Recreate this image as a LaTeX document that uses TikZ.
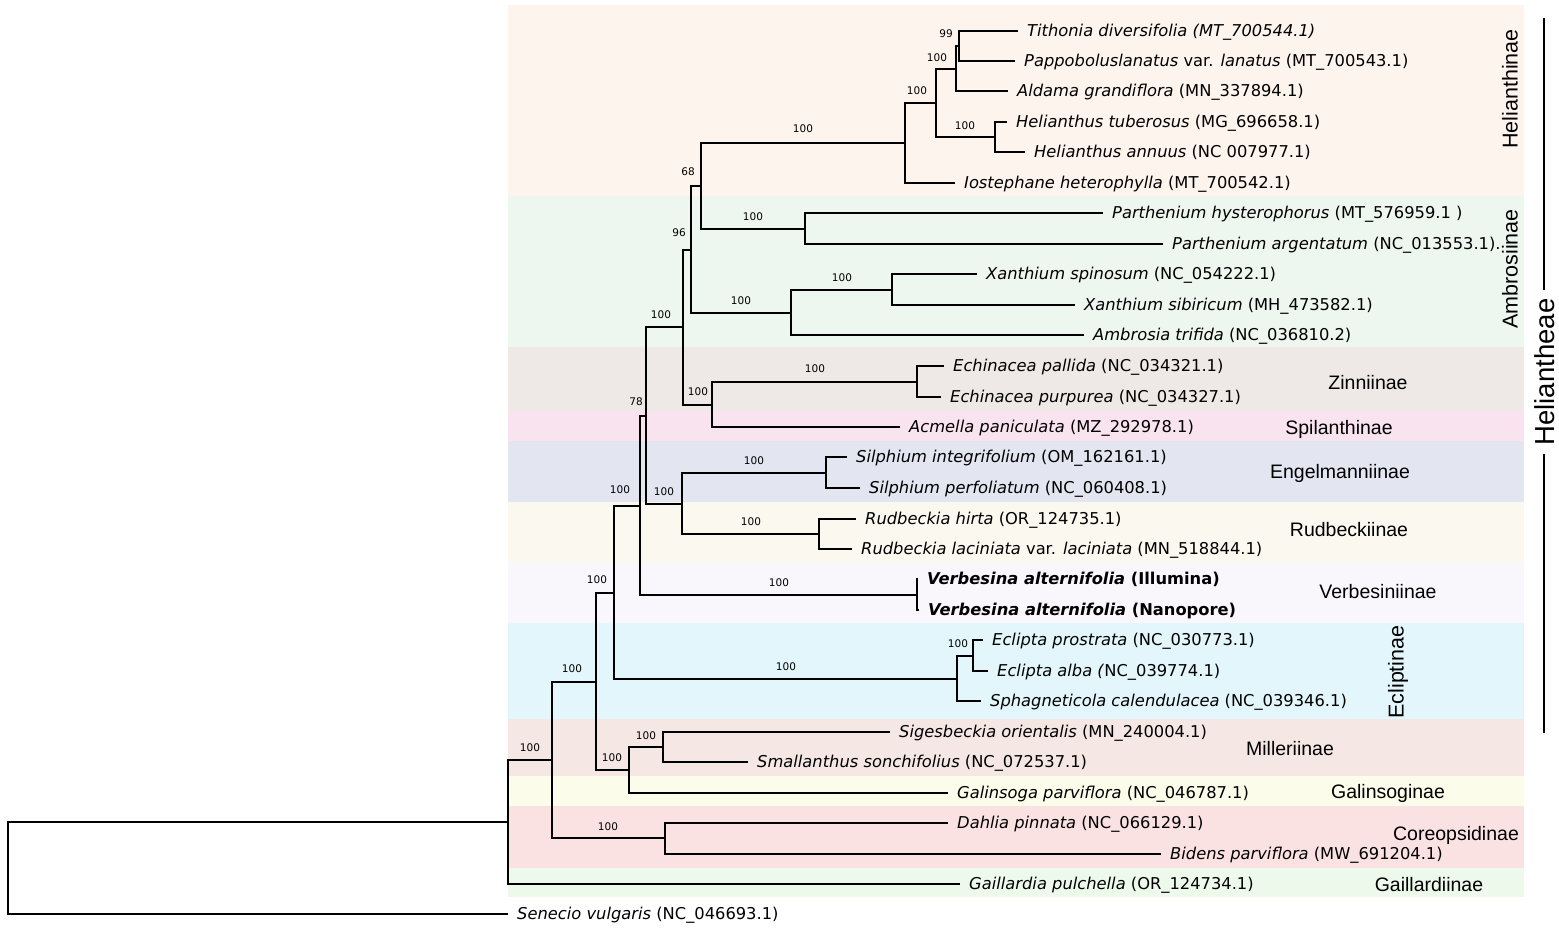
\documentclass[tikz,border=0pt]{standalone}
\usepackage{fontspec}
\setmainfont{DejaVu Sans}
\newfontfamily\cladefont{Liberation Sans}
\definecolor{cHeli}{HTML}{FDF4EE}
\definecolor{cAmbr}{HTML}{EEF6F0}
\definecolor{cZinn}{HTML}{EEE9E6}
\definecolor{cSpil}{HTML}{F9E3EF}
\definecolor{cEnge}{HTML}{E3E5F1}
\definecolor{cRudb}{HTML}{FBF8F0}
\definecolor{cVerb}{HTML}{F9F7FB}
\definecolor{cEcli}{HTML}{E2F6FB}
\definecolor{cMill}{HTML}{F5E7E3}
\definecolor{cGali}{HTML}{FCFCEB}
\definecolor{cCore}{HTML}{FBE2E2}
\definecolor{cGail}{HTML}{EDFAEB}
\tikzset{
    leaf/.style={anchor=west, inner xsep=9pt, inner ysep=0pt, text height=11.9pt, text depth=0pt,
        font=\fontsize{16.3}{18}\selectfont},
    boot/.style={inner sep=0pt, text height=7.7pt, text depth=0pt, font=\fontsize{10.5}{12}\selectfont},
    clade/.style={inner sep=0pt, text height=14pt, text depth=0pt, font=\cladefont\fontsize{19.5}{22}\selectfont},
    cladev/.style={inner sep=0pt, rotate=90, text height=15.4pt, text depth=0pt, font=\cladefont\fontsize{21.5}{24}\selectfont},
    tribe/.style={inner xsep=8pt, inner ysep=0pt, rotate=90, text height=20pt, text depth=0pt, font=\cladefont\fontsize{27.5}{30}\selectfont},
    edgeline/.style={line width=1.8pt},
}

\begin{document}
\begin{tikzpicture}[x=1pt,y=-1pt]
    \useasboundingbox (0,0) rectangle (1559,928);
    % subtribe bands
    \foreach \ya/\yb/\col in {5/196/cHeli,196/347/cAmbr,347/411/cZinn,411/441/cSpil,
        441/502/cEnge,502/563/cRudb,563/623/cVerb,623/719/cEcli,719/776/cMill,
        776/806/cGali,806/868/cCore,868/897/cGail}
        \fill[\col] (508,\ya) rectangle (1524,\yb);

    % tips
    \node[leaf] (t1) at (1018,31) {\textit{Tithonia diversifolia (MT\_700544.1)}};
    \node[leaf] (t2) at (1015,61) {\textit{Pappoboluslanatus} var. \textit{lanatus} (MT\_700543.1)};
    \node[leaf] (t3) at (1008,91) {\textit{Aldama grandiflora} (MN\_337894.1)};
    \node[leaf] (t4) at (1007,122) {\textit{Helianthus tuberosus} (MG\_696658.1)};
    \node[leaf] (t5) at (1025,152) {\textit{Helianthus annuus} (NC 007977.1)};
    \node[leaf] (t6) at (955,183) {\textit{Iostephane heterophylla} (MT\_700542.1)};
    \node[leaf] (t7) at (1103,213) {\textit{Parthenium hysterophorus} (MT\_576959.1 )};
    \node[leaf] (t8) at (1163,244) {\textit{Parthenium argentatum} (NC\_013553.1).};
    \node[leaf] (t9) at (977,274) {\textit{Xanthium spinosum} (NC\_054222.1)};
    \node[leaf] (t10) at (1075,305) {\textit{Xanthium sibiricum} (MH\_473582.1)};
    \node[leaf] (t11) at (1084,335) {\textit{Ambrosia trifida} (NC\_036810.2)};
    \node[leaf] (t12) at (944,366) {\textit{Echinacea pallida} (NC\_034321.1)};
    \node[leaf] (t13) at (941,397) {\textit{Echinacea purpurea} (NC\_034327.1)};
    \node[leaf] (t14) at (900,427) {\textit{Acmella paniculata} (MZ\_292978.1)};
    \node[leaf] (t15) at (847,457) {\textit{Silphium integrifolium} (OM\_162161.1)};
    \node[leaf] (t16) at (860,488) {\textit{Silphium perfoliatum} (NC\_060408.1)};
    \node[leaf] (t17) at (856,519) {\textit{Rudbeckia hirta} (OR\_124735.1)};
    \node[leaf] (t18) at (852,549) {\textit{Rudbeckia laciniata} var. \textit{laciniata} (MN\_518844.1)};
    \node[leaf] (t19) at (918,579) {\textbf{\textit{Verbesina alternifolia} (Illumina)}};
    \node[leaf] (t20) at (919,610) {\textbf{\textit{Verbesina alternifolia} (Nanopore)}};
    \node[leaf] (t21) at (983,640) {\textit{Eclipta prostrata} (NC\_030773.1)};
    \node[leaf] (t22) at (988,671) {\textit{Eclipta alba (}NC\_039774.1)};
    \node[leaf] (t23) at (981,701) {\textit{Sphagneticola calendulacea} (NC\_039346.1)};
    \node[leaf] (t24) at (890,732) {\textit{Sigesbeckia orientalis} (MN\_240004.1)};
    \node[leaf] (t25) at (748,762) {\textit{Smallanthus sonchifolius} (NC\_072537.1)};
    \node[leaf] (t26) at (948,793) {\textit{Galinsoga parviflora} (NC\_046787.1)};
    \node[leaf] (t27) at (948,823) {\textit{Dahlia pinnata} (NC\_066129.1)};
    \node[leaf] (t28) at (1161,854) {\textit{Bidens parviflora} (MW\_691204.1)};
    \node[leaf] (t29) at (960,884) {\textit{Gaillardia pulchella} (OR\_124734.1)};
    \node[leaf] (t30) at (508,914) {\textit{Senecio vulgaris} (NC\_046693.1)};

    % inner nodes
    \coordinate (nA) at (959,46);   \coordinate (nB) at (956,69);
    \coordinate (nC) at (995,137);  \coordinate (nD) at (936,103);
    \coordinate (nE) at (905,143);  \coordinate (nF) at (805,229);
    \coordinate (nG) at (701,186);  \coordinate (nH) at (892,290);
    \coordinate (nI) at (791,313);  \coordinate (nJ) at (691,250);
    \coordinate (nK) at (917,382);  \coordinate (nL) at (712,405);
    \coordinate (nM) at (683,327);  \coordinate (nN) at (826,473);
    \coordinate (nO) at (819,534);  \coordinate (nP) at (682,504);
    \coordinate (nQ) at (646,416);  \coordinate (nR) at (917,595);
    \coordinate (nS) at (640,506);  \coordinate (nT) at (973,656);
    \coordinate (nU) at (957,679);  \coordinate (nV) at (614,593);
    \coordinate (nW) at (663,747);  \coordinate (nX) at (629,770);
    \coordinate (nY) at (596,682);  \coordinate (nZ) at (665,838);
    \coordinate (nAA) at (552,760); \coordinate (nAB) at (508,822);
    \coordinate (root) at (8,868);

    % branches
    \begin{scope}[edgeline]
        \draw (t1.west) -| (nA) |- (t2.west);
        \draw (nA) -| (nB) |- (t3.west);
        \draw (t4.west) -| (nC) |- (t5.west);
        \draw (nB) -| (nD) |- (nC);
        \draw (nD) -| (nE) |- (t6.west);
        \draw (t7.west) -| (nF) |- (t8.west);
        \draw (nE) -| (nG) |- (nF);
        \draw (t9.west) -| (nH) |- (t10.west);
        \draw (nH) -| (nI) |- (t11.west);
        \draw (nG) -| (nJ) |- (nI);
        \draw (t12.west) -| (nK) |- (t13.west);
        \draw (nK) -| (nL) |- (t14.west);
        \draw (nJ) -| (nM) |- (nL);
        \draw (t15.west) -| (nN) |- (t16.west);
        \draw (t17.west) -| (nO) |- (t18.west);
        \draw (nN) -| (nP) |- (nO);
        \draw (nM) -| (nQ) |- (nP);
        \draw (t19.west) -| (nR) |- (t20.west);
        \draw (nQ) -| (nS) |- (nR);
        \draw (t21.west) -| (nT) |- (t22.west);
        \draw (nT) -| (nU) |- (t23.west);
        \draw (nS) -| (nV) |- (nU);
        \draw (t24.west) -| (nW) |- (t25.west);
        \draw (nW) -| (nX) |- (t26.west);
        \draw (nV) -| (nY) |- (nX);
        \draw (t27.west) -| (nZ) |- (t28.west);
        \draw (nY) -| (nAA) |- (nZ);
        \draw (nAA) -| (nAB) |- (t29.west);
        \draw (nAB) -| (root) |- (t30.west);
    \end{scope}

    % support values
    \node[boot] (bA) at (946,34) {99};
    \node[boot] (bB) at (937,58) {100};
    \node[boot] (bD) at (917,91) {100};
    \node[boot] (bC) at (965,126) {100};
    \node[boot] (bE) at (803,129) {100};
    \node[boot] (bG) at (688,172) {68};
    \node[boot] (bF) at (753,217) {100};
    \node[boot] (bJ) at (679,233) {96};
    \node[boot] (bH) at (842,278) {100};
    \node[boot] (bI) at (741,301) {100};
    \node[boot] (bM) at (661,315) {100};
    \node[boot] (bK) at (815,369) {100};
    \node[boot] (bL) at (698,392) {100};
    \node[boot] (bQ) at (636,402) {78};
    \node[boot] (bN) at (754,461) {100};
    \node[boot] (bP) at (664,492) {100};
    \node[boot] (bO) at (751,522) {100};
    \node[boot] (bS) at (620,490) {100};
    \node[boot] (bR) at (779,583) {100};
    \node[boot] (bV) at (597,580) {100};
    \node[boot] (bU) at (786,667) {100};
    \node[boot] (bT) at (958,644) {100};
    \node[boot] (bY) at (572,669) {100};
    \node[boot] (bW) at (646,736) {100};
    \node[boot] (bX) at (612,758) {100};
    \node[boot] (bAA) at (530,748) {100};
    \node[boot] (bZ) at (608,827) {100};

    % subtribes
    \node[cladev] (sHeli) at (1510,89) {Helianthinae};
    \node[cladev] (sAmbr) at (1510,269) {Ambrosiinae};
    \node[clade] (sZinn) at (1368,382) {Zinniinae};
    \node[clade] (sSpil) at (1339,427) {Spilanthinae};
    \node[clade] (sEnge) at (1340,471) {Engelmanniinae};
    \node[clade] (sRudb) at (1349,529) {Rudbeckiinae};
    \node[clade] (sVerb) at (1378,591) {Verbesiniinae};
    \node[cladev] (sEcli) at (1396,672) {Ecliptinae};
    \node[clade] (sMill) at (1290,748) {Milleriinae};
    \node[clade] (sGali) at (1388,791) {Galinsoginae};
    \node[clade] (sCore) at (1456,833) {Coreopsidinae};
    \node[clade] (sGail) at (1429,884) {Gaillardiinae};

    % tribe
    \node[tribe] (hel) at (1544,372) {Heliantheae};
    \coordinate (helTop) at (1544,18);
    \coordinate (helBot) at (1544,733);
    \draw[line width=1.5pt] (helTop) -- (hel.east);
    \draw[line width=1.5pt] (hel.west) -- (helBot);
\end{tikzpicture}
\end{document}
